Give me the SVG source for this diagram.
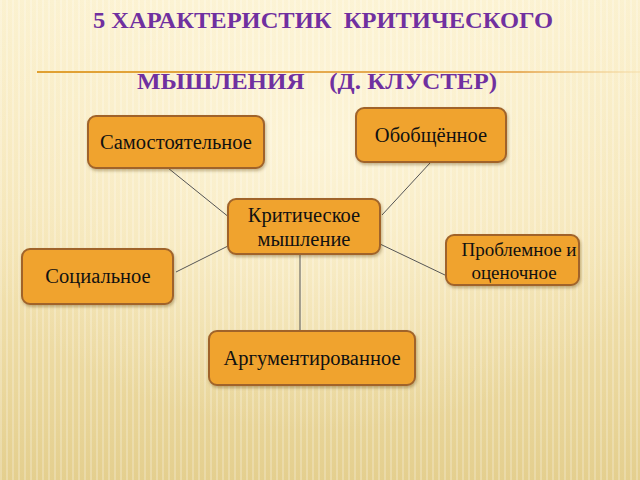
<svg xmlns="http://www.w3.org/2000/svg" width="640" height="480" viewBox="0 0 640 480">
<defs>
<linearGradient id="bg" x1="0" y1="0" x2="0" y2="1">
<stop offset="0" stop-color="#FBF1CF"/>
<stop offset="0.5" stop-color="#F4E4B4"/>
<stop offset="1" stop-color="#E4CF8E"/>
</linearGradient>
<radialGradient id="glow" cx="0.5" cy="0.3" r="0.6">
<stop offset="0" stop-color="#FFF8E0" stop-opacity="0.7"/>
<stop offset="1" stop-color="#FFF8E0" stop-opacity="0"/>
</radialGradient>
<pattern id="stripes" width="6" height="480" patternUnits="userSpaceOnUse">
<rect x="0" y="0" width="2" height="480" fill="#FFFFFF" opacity="0.22"/>
</pattern>
<linearGradient id="rule" x1="37" y1="0" x2="640" y2="0" gradientUnits="userSpaceOnUse">
<stop offset="0" stop-color="#E0A030"/>
<stop offset="0.8" stop-color="#E8B060"/>
<stop offset="1" stop-color="#F4D9A0" stop-opacity="0.4"/>
</linearGradient>
<filter id="sh" x="-10%" y="-10%" width="130%" height="140%">
<feDropShadow dx="1" dy="2" stdDeviation="1.5" flood-color="#5a3a10" flood-opacity="0.35"/>
</filter>
<style>
.box{fill:#F0A32E;stroke:#A0642C;stroke-width:2;filter:url(#sh)}
.lbl{font-family:"Liberation Serif","Times New Roman",serif;font-size:20.5px;fill:#111;text-anchor:middle}
.sm{font-size:19px}
.title{font-family:"Liberation Serif","Times New Roman",serif;font-weight:bold;font-size:24px;fill:#7030A0}
.con{stroke:#555;stroke-width:1;fill:none}
</style>
</defs>
<rect width="640" height="480" fill="url(#bg)"/>
<rect width="640" height="480" fill="url(#glow)"/>
<rect width="640" height="480" fill="url(#stripes)"/>
<rect x="37" y="71" width="603" height="2" fill="url(#rule)"/>
<text class="title" x="93" y="28" textLength="460" lengthAdjust="spacingAndGlyphs" xml:space="preserve">5 ХАРАКТЕРИСТИК  КРИТИЧЕСКОГО</text>
<text class="title" x="137" y="89" textLength="360" lengthAdjust="spacingAndGlyphs" xml:space="preserve">МЫШЛЕНИЯ    (Д. КЛУСТЕР)</text>
<g id="connectors">
<line class="con" x1="168" y1="168" x2="230" y2="218"/>
<line class="con" x1="430" y1="163" x2="382" y2="215"/>
<line class="con" x1="176" y1="272" x2="230" y2="245"/>
<line class="con" x1="380" y1="244" x2="447" y2="276"/>
<line class="con" x1="300" y1="254" x2="300" y2="331"/>
</g>
<g id="n-samost">
<rect class="box" x="88" y="116" width="176" height="52" rx="8"/>
<text class="lbl" x="176" y="149">Самостоятельное</text>
</g>
<g id="n-obobsch">
<rect class="box" x="356" y="108" width="150" height="54" rx="8"/>
<text class="lbl" x="431" y="142">Обобщённое</text>
</g>
<g id="n-krit">
<rect class="box" x="228" y="199" width="152" height="55" rx="8"/>
<text class="lbl" x="304" y="222">Критическое</text>
<text class="lbl" x="304" y="246">мышление</text>
</g>
<g id="n-probl">
<rect class="box" x="446" y="235" width="133" height="50" rx="8"/>
<text class="lbl sm" x="519" y="256">Проблемное и</text>
<text class="lbl sm" x="514" y="279">оценочное</text>
</g>
<g id="n-soc">
<rect class="box" x="22" y="249" width="151" height="55" rx="8"/>
<text class="lbl" x="98" y="283">Социальное</text>
</g>
<g id="n-argum">
<rect class="box" x="209" y="331" width="206" height="54" rx="8"/>
<text class="lbl" x="312" y="365">Аргументированное</text>
</g>
</svg>
